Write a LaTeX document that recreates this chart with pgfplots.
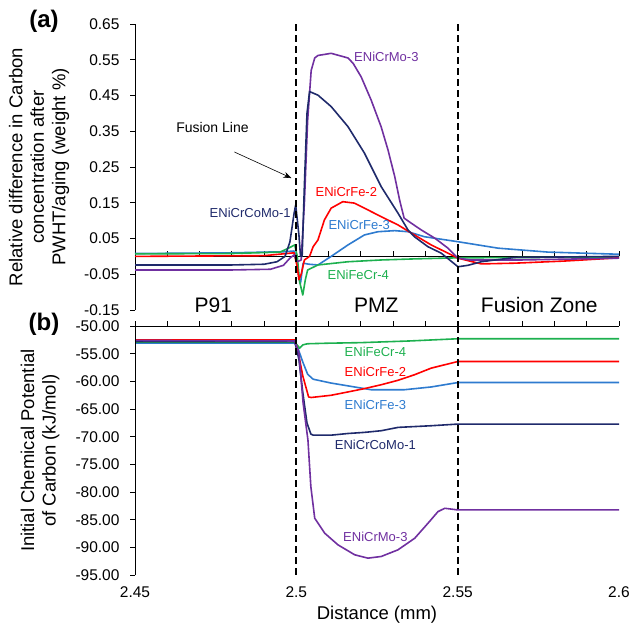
\documentclass[border=0pt]{standalone}
\usepackage{fontspec}
\setmainfont{Liberation Sans}
\usepackage{pgfplots}
\pgfplotsset{compat=1.18}
\usetikzlibrary{arrows.meta}
\definecolor{cPurple}{HTML}{7030A0}
\definecolor{cNavy}{HTML}{1F2A6B}
\definecolor{cRed}{HTML}{FF0000}
\definecolor{cBlue}{HTML}{2E7BCF}
\definecolor{cGreen}{HTML}{1DB04F}
\tikzset{
  curve/.style={line width=1.6pt, line join=round},
  lbl/.style={font=\fontsize{13}{15}\selectfont},
}
\begin{document}
\begin{tikzpicture}
\useasboundingbox (0pt,0pt) rectangle (631pt,-625pt);
% ---------------- (a) ----------------
\begin{axis}[
  at={(135pt,-310pt)}, anchor=south west, scale only axis,
  width=484pt, height=286pt,
  xmin=2.45, xmax=2.6, ymin=-0.15, ymax=0.65,
  axis x line=middle, axis y line=left,
  x axis line style={-, line width=0.9pt},
  y axis line style={-, line width=0.9pt},
  every inner x axis line/.append style={-},
  xtick={2.45,2.46,2.47,2.48,2.49,2.5,2.51,2.52,2.53,2.54,2.55,2.56,2.57,2.58,2.59,2.6},
  xticklabels={},
  xtick align=inside,
  ytick={-0.15,-0.05,0.05,0.15,0.25,0.35,0.45,0.55,0.65},
  ytick align=outside,
  major tick length=5pt,
  tick style={black, line width=0.9pt},
  yticklabel shift=7pt,
  yticklabel style={/pgf/number format/.cd, fixed, fixed zerofill, precision=2, assume math mode=true},
  tick label style={font=\fontsize{15.5}{18}\selectfont},
  every axis y label/.style={at={(rel axis cs:-0.198,0.5)}, rotate=90, anchor=center},
  ylabel={Relative difference in Carbon\\concentration after\\PWHT/aging (weight \%)},
  ylabel style={align=center, font=\fontsize{18.5}{21.5}\selectfont},
  clip=false,
]
\addplot[curve, no marks, cBlue] coordinates {
(2.45,0.008) (2.48,0.010) (2.496,0.013) (2.4993,0.015) (2.5,0.0) (2.5008,-0.06) (2.5013,-0.075) (2.5021,-0.019) (2.504,-0.022) (2.5067,-0.024) (2.5108,0.0) (2.516,0.032) (2.5211,0.06) (2.5253,0.069) (2.5305,0.072) (2.5346,0.069) (2.5397,0.055) (2.5501,0.041) (2.5625,0.023) (2.578,0.012) (2.6,0.006)};
\addplot[curve, no marks, cGreen] coordinates {
(2.45,0.007) (2.48,0.008) (2.495,0.012) (2.498,0.025) (2.4995,0.032) (2.5003,0.0) (2.501,-0.07) (2.502,-0.108) (2.5028,-0.065) (2.5035,-0.038) (2.5067,-0.024) (2.516,-0.015) (2.5263,-0.01) (2.5366,-0.007) (2.5501,-0.004) (2.6,-0.002)};
\addplot[curve, no marks, cRed] coordinates {
(2.45,0.0) (2.49,0.002) (2.497,0.008) (2.4993,0.01) (2.5003,-0.03) (2.5008,-0.065) (2.5015,-0.05) (2.5025,-0.01) (2.5041,0.0) (2.5052,0.027) (2.5067,0.046) (2.5087,0.102) (2.5108,0.135) (2.5144,0.153) (2.518,0.149) (2.5211,0.135) (2.5263,0.111) (2.5315,0.088) (2.5366,0.06) (2.5418,0.032) (2.547,0.009) (2.5501,-0.005) (2.5573,-0.021) (2.5677,-0.019) (2.5832,-0.013) (2.6,-0.004)};
\addplot[curve, no marks, cPurple] coordinates {
(2.45,-0.038) (2.48,-0.038) (2.492,-0.036) (2.496,-0.025) (2.498,-0.005) (2.4993,0.004) (2.5003,-0.015) (2.5015,-0.01) (2.5025,0.15) (2.5035,0.38) (2.5046,0.52) (2.5057,0.555) (2.5067,0.562) (2.5108,0.568) (2.516,0.555) (2.5176,0.54) (2.5201,0.502) (2.5232,0.437) (2.5263,0.362) (2.5284,0.298) (2.5305,0.223) (2.532,0.158) (2.5334,0.107) (2.5356,0.093) (2.5387,0.074) (2.5429,0.051) (2.547,0.023) (2.5501,-0.005) (2.554,-0.01) (2.57,-0.01) (2.6,-0.005)};
\addplot[curve, no marks, cNavy] coordinates {
(2.45,-0.024) (2.48,-0.024) (2.49,-0.022) (2.494,-0.015) (2.4965,0.0) (2.498,0.04) (2.4993,0.12) (2.4998,0.144) (2.5008,0.06) (2.5013,0.0) (2.5018,0.0) (2.5025,0.2) (2.5033,0.40) (2.5041,0.461) (2.5067,0.451) (2.5108,0.419) (2.516,0.363) (2.5211,0.289) (2.5263,0.195) (2.5315,0.121) (2.5346,0.074) (2.5366,0.055) (2.5408,0.027) (2.5449,0.009) (2.5501,-0.029) (2.5532,-0.025) (2.5573,-0.015) (2.5677,-0.003) (2.6,0.0)};
\draw[black, line width=1.7pt, dash pattern=on 7pt off 4pt] (axis cs:2.5,0.65) -- (axis cs:2.5,-0.195);
\draw[black, line width=1.7pt, dash pattern=on 7pt off 4pt] (axis cs:2.55,0.65) -- (axis cs:2.55,-0.195);
\node[lbl, text=cPurple] at (axis cs:2.5279,0.559) {ENiCrMo-3};
\node[lbl, text=cRed] at (axis cs:2.5155,0.18) {ENiCrFe-2};
\node[lbl, text=cBlue] at (axis cs:2.5195,0.088) {ENiCrFe-3};
\node[lbl, text=cGreen] at (axis cs:2.5192,-0.052) {ENiFeCr-4};
\node[lbl, text=cNavy] at (axis cs:2.4857,0.121) {ENiCrCoMo-1};
\node[font=\fontsize{14}{16}\selectfont] at (axis cs:2.474,0.36) {Fusion Line};
\draw[black, line width=0.6pt, -{Stealth[length=8pt,width=6pt]}] (axis cs:2.4808,0.292) -- (axis cs:2.4985,0.219);
\node[font=\fontsize{21}{24}\selectfont] at (axis cs:2.4743,-0.136) {P91};
\node[font=\fontsize{21}{24}\selectfont] at (axis cs:2.5248,-0.136) {PMZ};
\node[font=\fontsize{21}{24}\selectfont] at (axis cs:2.5753,-0.136) {Fusion Zone};
\end{axis}
% ---------------- (b) ----------------
\begin{axis}[
  at={(135pt,-575.3pt)}, anchor=south west, scale only axis,
  width=484pt, height=249.3pt,
  xmin=2.45, xmax=2.6, ymin=-95, ymax=-50,
  axis line style={draw=none},
  xtick={2.45,2.5,2.55,2.6},
  minor xtick={2.46,2.47,2.48,2.49,2.51,2.52,2.53,2.54,2.56,2.57,2.58,2.59},
  xtick pos=right, xticklabel pos=left,
  ytick={-95,-90,-85,-80,-75,-70,-65,-60,-55,-50},
  ytick pos=left,
  tick align=outside,
  major tick length=5pt, minor tick length=5pt,
  tick style={black, line width=0.9pt},
  xticklabel shift=3pt,
  yticklabel shift=7pt,
  xticklabel style={/pgf/number format/.cd, assume math mode=true},
  yticklabel style={/pgf/number format/.cd, fixed, fixed zerofill, precision=2, assume math mode=true},
  tick label style={font=\fontsize{15.5}{18}\selectfont},
  every axis y label/.style={at={(rel axis cs:-0.196,0.5)}, rotate=90, anchor=center},
  ylabel={Initial Chemical Potential\\of Carbon (kJ/mol)},
  ylabel style={align=center, font=\fontsize{18.5}{21.5}\selectfont},
  xlabel={Distance (mm)},
  xlabel style={yshift=-1pt, font=\fontsize{18.5}{21.5}\selectfont},
  clip=false,
]
\addplot[curve, no marks, cBlue] coordinates {
(2.45,-53.1) (2.4995,-53.1) (2.5005,-54) (2.502,-56.5) (2.5035,-58.7) (2.5052,-59.6) (2.5108,-60.3) (2.518,-61.0) (2.5232,-61.5) (2.5335,-61.5) (2.5418,-61.0) (2.5501,-60.2) (2.6,-60.2)};
\addplot[curve, no marks, cGreen] coordinates {
(2.45,-52.9) (2.4995,-52.9) (2.5005,-53.6) (2.501,-54.0) (2.502,-53.4) (2.5035,-53.2) (2.51,-53.1) (2.52,-53.0) (2.535,-52.7) (2.55,-52.3) (2.6,-52.3)};
\addplot[curve, no marks, cRed] coordinates {
(2.45,-52.5) (2.4995,-52.5) (2.5005,-54.5) (2.502,-59) (2.5038,-62.8) (2.5046,-62.9) (2.5108,-62.5) (2.516,-61.9) (2.5211,-61.3) (2.5263,-60.6) (2.5315,-59.8) (2.5366,-58.8) (2.5418,-57.6) (2.5501,-56.4) (2.6,-56.4)};
\addplot[curve, no marks, cNavy] coordinates {
(2.45,-52.8) (2.4995,-52.8) (2.5008,-56) (2.502,-62) (2.5033,-67.5) (2.5045,-69.5) (2.5052,-69.7) (2.5108,-69.7) (2.516,-69.4) (2.5211,-69.2) (2.5263,-68.9) (2.5315,-68.3) (2.5418,-68.0) (2.5501,-67.7) (2.6,-67.7)};
\addplot[curve, no marks, cPurple] coordinates {
(2.45,-52.6) (2.4995,-52.7) (2.5008,-54.9) (2.5021,-63.9) (2.5036,-70.6) (2.5045,-79) (2.5057,-84.7) (2.5088,-87.4) (2.5129,-89.5) (2.5181,-91.3) (2.5222,-91.9) (2.5263,-91.6) (2.5315,-90.4) (2.5367,-88.3) (2.5408,-85.6) (2.5439,-83.5) (2.546,-82.9) (2.5501,-83.2) (2.6,-83.2)};
\draw[black, line width=0.9pt] (rel axis cs:0,0) -- (rel axis cs:0,1) -- (rel axis cs:1,1);
\draw[black, line width=1.7pt, dash pattern=on 7pt off 4pt] (axis cs:2.5,-50) -- (axis cs:2.5,-95);
\draw[black, line width=1.7pt, dash pattern=on 7pt off 4pt] (axis cs:2.55,-50) -- (axis cs:2.55,-95);
\node[lbl, text=cGreen] at (axis cs:2.5245,-54.7) {ENiFeCr-4};
\node[lbl, text=cRed] at (axis cs:2.5245,-58.3) {ENiCrFe-2};
\node[lbl, text=cBlue] at (axis cs:2.5245,-64.3) {ENiCrFe-3};
\node[lbl, text=cNavy] at (axis cs:2.5245,-71.5) {ENiCrCoMo-1};
\node[lbl, text=cPurple] at (axis cs:2.5245,-88.1) {ENiCrMo-3};
\end{axis}
\node[font=\bfseries\fontsize{24}{28}\selectfont] at (44pt,-21pt) {(a)};
\node[font=\bfseries\fontsize{24}{28}\selectfont] at (44pt,-324pt) {(b)};
\end{tikzpicture}
\end{document}
